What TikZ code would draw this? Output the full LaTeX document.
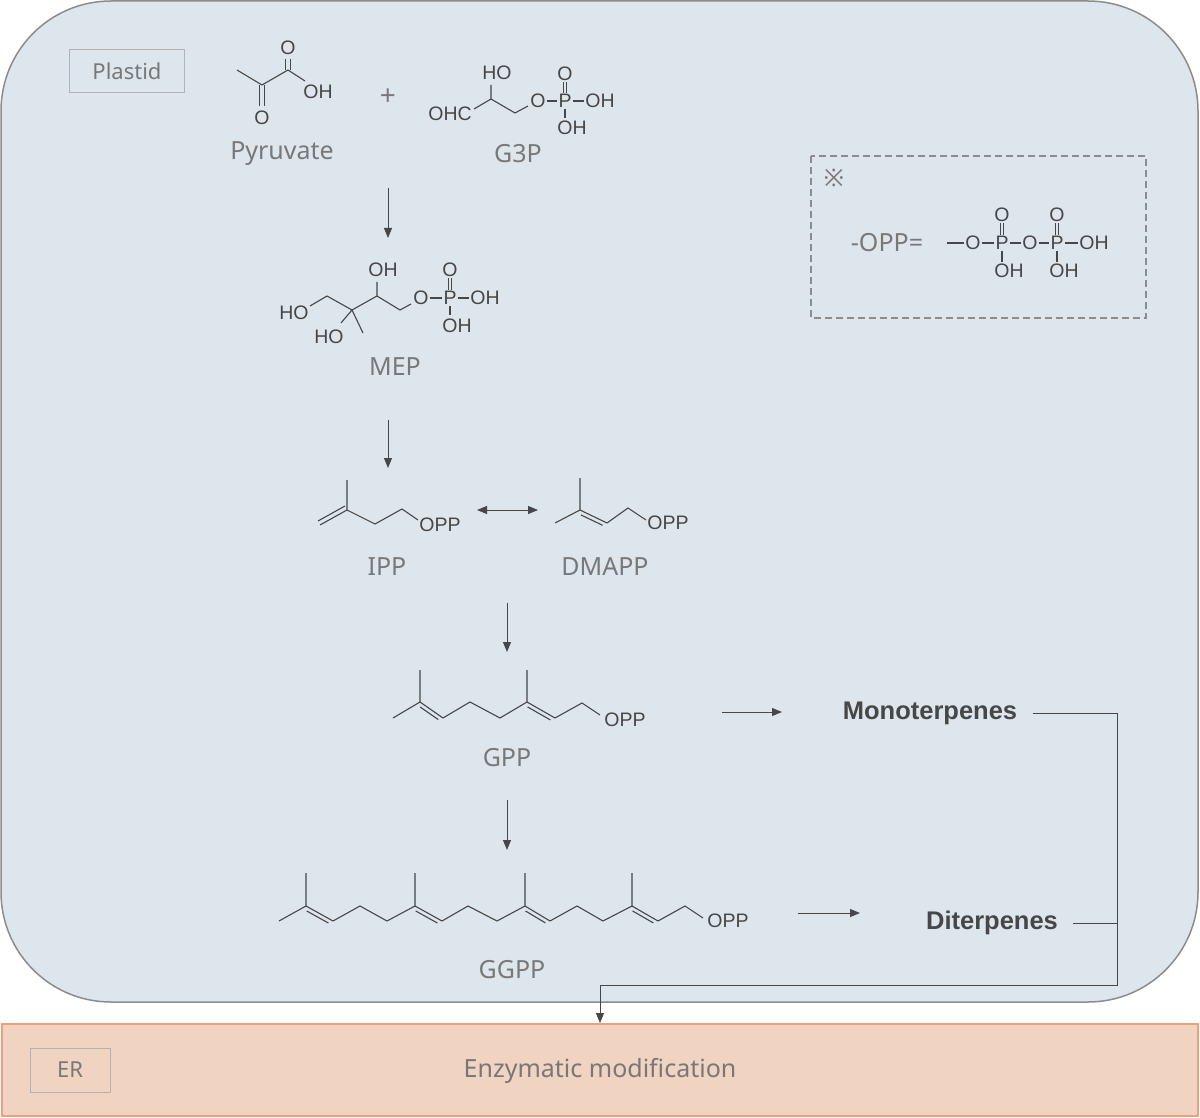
\documentclass[tikz,border=0pt]{standalone}
\usepackage{fontspec}
\setmainfont{Noto Sans}
\newfontfamily\arialf{Liberation Sans}
\usetikzlibrary{calc,arrows.meta}
\definecolor{bg}{HTML}{DDE5ED}
\definecolor{erf}{HTML}{F0D3C1}
\definecolor{erb}{HTML}{E9A27C}
\definecolor{lab}{HTML}{787878}
\definecolor{chem}{HTML}{474747}
\newcommand{\db}[3]{\draw (#1)--(#2); \draw[shorten <=3pt,shorten >=3pt] ($(#1)!#3!90:(#2)$)--($(#2)!#3!-90:(#1)$);}
\begin{document}
\begin{tikzpicture}[x=1pt,y=-1pt,
 atom/.style={text=chem,font=\arialf\fontsize{19.5}{19.5}\selectfont,inner sep=0.5pt},
 lbl/.style={text=lab,font=\fontsize{25}{25}\selectfont},
 bold/.style={text=chem,font=\arialf\bfseries\fontsize{25.5}{25.5}\selectfont},
 arr/.style={draw=chem,line width=1pt,-{Triangle[length=10pt,width=8pt]}},
 conn/.style={draw=chem,line width=0.8pt}]
\useasboundingbox (0,0) rectangle (1200,1118);
\draw[fill=bg,draw=gray!90,line width=1.5pt,rounded corners=110pt] (1,1) rectangle (1198,1002);
\draw[fill=erf,draw=erb,line width=1.5pt] (2,1024) rectangle (1198,1116);
\node[draw=gray!60,line width=1pt,minimum width=115pt,minimum height=43pt,lbl] (pl) at (127,71) {\fontsize{22}{22}\selectfont Plastid};
\node[draw=gray!60,line width=1pt,minimum width=80pt,minimum height=44pt,lbl] (er) at (70,1070) {\fontsize{22}{22}\selectfont ER};
\node[lbl] (enz) at (600,1071) {Enzymatic modification};
\draw[draw=gray!90,line width=2pt,dash pattern=on 7pt off 4pt] (811,156) rectangle (1146,318);
\node[text=lab,font=\fontsize{24}{24}\selectfont] (kome) at (834,178) {※};
\node[lbl] (opp) at (887,243) {-OPP=};
\begin{scope}[chem,line width=1.1pt]
% OPP formula
\node[atom] (bo1) at (973,243) {O};
\node[atom] (bp1) at (1002,243) {P};
\node[atom] (bo2) at (1030,243) {O};
\node[atom] (bp2) at (1057,243) {P};
\node[atom] (boh) at (1094,243) {OH};
\node[atom] (bt1) at (1002,215) {O};
\node[atom] (bt2) at (1057,215) {O};
\node[atom] (bb1) at (1009,271) {OH};
\node[atom] (bb2) at (1064,271) {OH};
\coordinate (bst) at (947,243);
\draw (bst)--(bo1) (bo1)--(bp1) (bp1)--(bo2) (bo2)--(bp2) (bp2)--(boh) (bp1.south)--(1002,262) (bp2.south)--(1057,262);
\draw ([xshift=-1.5pt]bp1.north)--([xshift=-1.5pt]bt1.south) ([xshift=1.5pt]bp1.north)--([xshift=1.5pt]bt1.south);
\draw ([xshift=-1.5pt]bp2.north)--([xshift=-1.5pt]bt2.south) ([xshift=1.5pt]bp2.north)--([xshift=1.5pt]bt2.south);
% Pyruvate
\draw (237,70)--(262,85)--(288,70)--(305,81);
\node[atom] (pyoh) at (318,92) {OH};
\draw (259.5,85)--(259.5,106) (264.5,85)--(264.5,106);
\node[atom] (pyo1) at (262,118) {O};
\draw (285.5,70)--(285.5,59) (290.5,70)--(290.5,59);
\node[atom] (pyo2) at (288,48) {O};
\node[lbl] (pyr) at (282,154) {Pyruvate};
\node[text=lab,font=\fontsize{28}{28}\selectfont] (plus) at (388,97) {+};
% G3P
\node[atom] (ohc) at (450,114) {OHC};
\draw (474,109)--(491,99)--(515,113)--(528,106) (491,99)--(491,85);
\node[atom] (gho) at (497,73) {HO};
\node[atom] (go) at (538,101) {O};
\node[atom] (gp) at (565,101) {P};
\node[atom] (goh) at (600,101) {OH};
\node[atom] (gt) at (565,74) {O};
\node[atom] (gb) at (572,128) {OH};
\draw (go)--(gp) (gp)--(goh) (gp.south)--(565,118);
\draw ([xshift=-1.5pt]gp.north)--([xshift=-1.5pt]gt.south) ([xshift=1.5pt]gp.north)--([xshift=1.5pt]gt.south);
\node[lbl] (g3p) at (518,154) {G3P};
% MEP
\node[atom] (mho) at (294,313) {HO};
\draw (310,306)--(327,296)--(352,310)--(377,296)--(400,310)--(411,304) (352,310)--(363,333) (352,310)--(341,323) (377,296)--(377,282);
\node[atom] (mho2) at (329,337) {HO};
\node[atom] (moh) at (383,270) {OH};
\node[atom] (mo) at (421,298) {O};
\node[atom] (mp) at (450,298) {P};
\node[atom] (moh2) at (485,298) {OH};
\node[atom] (mt) at (450,270) {O};
\node[atom] (mb) at (457,326) {OH};
\draw (mo)--(mp) (mp)--(moh2) (mp.south)--(450,315);
\draw ([xshift=-1.5pt]mp.north)--([xshift=-1.5pt]mt.south) ([xshift=1.5pt]mp.north)--([xshift=1.5pt]mt.south);
\node[lbl] (mep) at (395,367) {MEP};
% IPP
\draw (347,480)--(347,510) (347,510)--(375,524)--(402,509)--(418,520);
\draw (347,510)--(320,525) (345,506)--(318,521);
\node[atom] (ippo) at (440,525) {OPP};
\node[lbl] (ipp) at (387,567) {IPP};
% DMAPP
\draw (580,478)--(580,510)--(555,523) (607,523)--(628,508)--(646,520);
\db{580,510}{607,523}{-4pt}
\node[atom] (dmo) at (668,523) {OPP};
\node[lbl] (dma) at (605,567) {DMAPP};
% GPP
\draw (393,718)--(420,702)--(420,670) (443,718)--(470,702)--(500,718)--(527,702)--(527,670) (555,718)--(582,703)--(600,715);
\db{420,702}{443,718}{-4pt}
\db{527,702}{555,718}{-4pt}
\node[atom] (gpo) at (625,720) {OPP};
\node[lbl] (gpp) at (507,758) {GPP};
% GGPP
\draw (279,921)--(306,906)--(306,873) (333,921)--(360,906)--(387,921)--(415,906)--(415,873)
 (442,921)--(468,906)--(497,921)--(525,906)--(525,873) (550,921)--(577,906)--(603,921)--(632,906)--(632,873) (658,921)--(685,906)--(703,918);
\db{306,906}{333,921}{-4pt}
\db{415,906}{442,921}{-4pt}
\db{525,906}{550,921}{-4pt}
\db{632,906}{658,921}{-4pt}
\node[atom] (ggo) at (728,921) {OPP};
\node[lbl] (ggpp) at (512,970) {GGPP};
\end{scope}
\node[bold] (mono) at (930,713) {Monoterpenes};
\node[bold] (dit) at (992,923) {Diterpenes};
% arrows
\coordinate (a1s) at (388,188); \coordinate (a1e) at (388,238);
\coordinate (a2s) at (388,420); \coordinate (a2e) at (388,468);
\coordinate (a3s) at (507,603); \coordinate (a3e) at (507,652);
\coordinate (a4s) at (507,800); \coordinate (a4e) at (507,850);
\draw[arr] (a1s)--(a1e);
\draw[arr] (a2s)--(a2e);
\draw[arr] (a3s)--(a3e);
\draw[arr] (a4s)--(a4e);
\draw[draw=chem,line width=1pt,{Triangle[length=10pt,width=8pt]}-{Triangle[length=10pt,width=8pt]}] (477,510)--(538,510);
\draw[arr] (722,712)--(782,712);
\draw[arr] (798,913)--(860,913);
\coordinate (c1) at (1117,713); \coordinate (c2) at (1117,985); \coordinate (c3) at (600,985);
\draw[conn] ([xshift=12pt]mono.east)--(c1)--(c2)--(c3);
\draw[conn] ([xshift=12pt]dit.east)--(1117,923);
\draw[conn,-{Triangle[length=10pt,width=8pt]}] (c3)--(600,1023);
\end{tikzpicture}
\end{document}
